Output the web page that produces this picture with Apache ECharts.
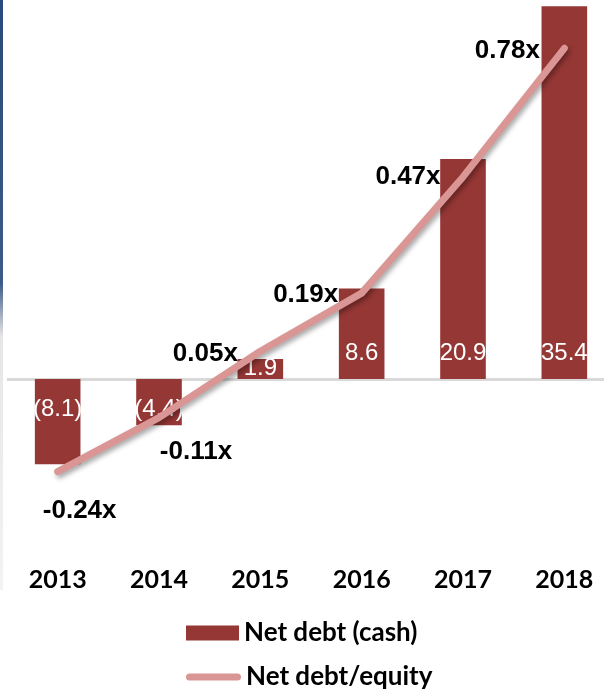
<!DOCTYPE html>
<html>
<head>
<meta charset="utf-8">
<script src="https://cdn.jsdelivr.net/npm/echarts@6/dist/echarts.min.js"></script>
<style>
  html, body { margin: 0; padding: 0; background: #ffffff; }
  #chart { width: 604px; height: 691px; }
</style>
</head>
<body>
<div id="chart"></div>
<script>
// Fiscal years on the category axis
const years = ['2013', '2014', '2015', '2016', '2017', '2018'];
// Net debt (negative = net cash)
const netDebt = [-8.1, -4.4, 1.9, 8.6, 20.9, 35.4];
// Net debt / equity ratio
const debtToEquity = [-0.24, -0.11, 0.05, 0.19, 0.47, 0.78];

// Where each ratio label sits relative to its point (pixels)
const ratioLabelOffsets = [[22, 39], [37, 34], [-55, 3], [-56, 2], [-55, 0], [-57, 3]];

const BAR_COLOR = '#953735';
const LINE_COLOR = '#D99694';
const LABEL_FONT = '"Liberation Sans", Arial, sans-serif';
const LEGEND_TEXT = {
  fontFamily: 'Lato, "Open Sans", sans-serif',
  fontWeight: 'bold',
  fontSize: 26,
  color: '#000000',
  lineHeight: 28
};
// Rounded thick stroke used as the ratio legend key
const ROUND_LINE_ICON = 'path://M3.5,0 H50.5 A3.5,3.5 0 0 1 50.5,7 H3.5 A3.5,3.5 0 0 1 3.5,0 Z';

const chart = echarts.init(document.getElementById('chart'), null, { renderer: 'canvas' });

const barData = netDebt.map(function (v) {
  let label;
  if (v < 0) {
    label = { position: 'insideTop', distance: 18 };
  } else if (v < 3) {
    label = { position: 'insideBottom', distance: -1 };
  } else {
    label = { position: 'insideBottom', distance: 14 };
  }
  return { value: v, label: label };
});

const lineData = debtToEquity.map(function (v, i) {
  return { value: v, label: { offset: ratioLabelOffsets[i] } };
});

chart.setOption({
  animation: false,
  backgroundColor: '#ffffff',
  graphic: [{
    type: 'rect',
    left: 0,
    top: 0,
    shape: { width: 3, height: 590 },
    style: {
      fill: new echarts.graphic.LinearGradient(0, 0, 0, 1, [
        { offset: 0, color: '#2a4a7b' },
        { offset: 0.48, color: '#3d5a88' },
        { offset: 0.57, color: '#e6e6e6' },
        { offset: 1, color: '#f3f3f3' }
      ])
    },
    z: 0
  }],
  // the plot runs slightly past the right edge of the canvas
  grid: { left: 7, top: 0, width: 608, height: 560, outerBoundsMode: 'none', containLabel: false },
  legend: [
    {
      left: 186,
      top: 619,
      padding: 0,
      itemWidth: 53,
      itemHeight: 15,
      textStyle: LEGEND_TEXT,
      data: [{ name: 'Net debt (cash)', icon: 'rect' }]
    },
    {
      left: 186,
      top: 663,
      padding: 0,
      itemWidth: 55,
      itemHeight: 15,
      textStyle: LEGEND_TEXT,
      itemStyle: { shadowBlur: 0, shadowOffsetX: 0, shadowOffsetY: 0 },
      lineStyle: { width: 0 },
      data: [{ name: 'Net debt/equity', icon: ROUND_LINE_ICON }]
    }
  ],
  xAxis: {
    type: 'category',
    data: years,
    position: 'bottom',
    axisLine: { show: false, onZero: false },
    axisTick: { show: false },
    axisLabel: {
      margin: 7,
      fontFamily: 'Lato, "Open Sans", sans-serif',
      fontWeight: 'bold',
      fontSize: 25,
      color: '#000000'
    }
  },
  yAxis: [
    { type: 'value', min: -17.19, max: 36, show: false, splitLine: { show: false } },
    { type: 'value', min: -0.453, max: 0.8964, show: false, splitLine: { show: false } }
  ],
  series: [
    {
      name: 'Net debt (cash)',
      type: 'bar',
      yAxisIndex: 0,
      barWidth: '45%',
      itemStyle: { color: BAR_COLOR },
      data: barData,
      label: {
        show: true,
        color: '#ffffff',
        fontFamily: LABEL_FONT,
        fontSize: 24,
        formatter: function (p) {
          const v = p.value;
          return v < 0 ? '(' + Math.abs(v).toFixed(1) + ')' : v.toFixed(1);
        }
      },
      markLine: {
        silent: true,
        symbol: 'none',
        label: { show: false },
        lineStyle: { color: '#d9d9d9', width: 3, type: 'solid' },
        data: [{ yAxis: 0 }],
        z: 1
      },
      z: 2
    },
    {
      name: 'Net debt/equity',
      type: 'line',
      yAxisIndex: 1,
      symbol: 'circle',
      symbolSize: 1,
      showSymbol: true,
      data: lineData,
      itemStyle: { color: LINE_COLOR },
      lineStyle: {
        color: LINE_COLOR,
        width: 7,
        cap: 'round',
        join: 'round',
        shadowColor: 'rgba(0,0,0,0.35)',
        shadowBlur: 5,
        shadowOffsetX: 2,
        shadowOffsetY: 3
      },
      label: {
        show: true,
        position: 'inside',
        color: '#000000',
        fontFamily: LABEL_FONT,
        fontWeight: 'bold',
        fontSize: 26,
        formatter: function (p) { return p.value.toFixed(2) + 'x'; }
      },
      z: 3
    }
  ]
});
</script>
</body>
</html>
